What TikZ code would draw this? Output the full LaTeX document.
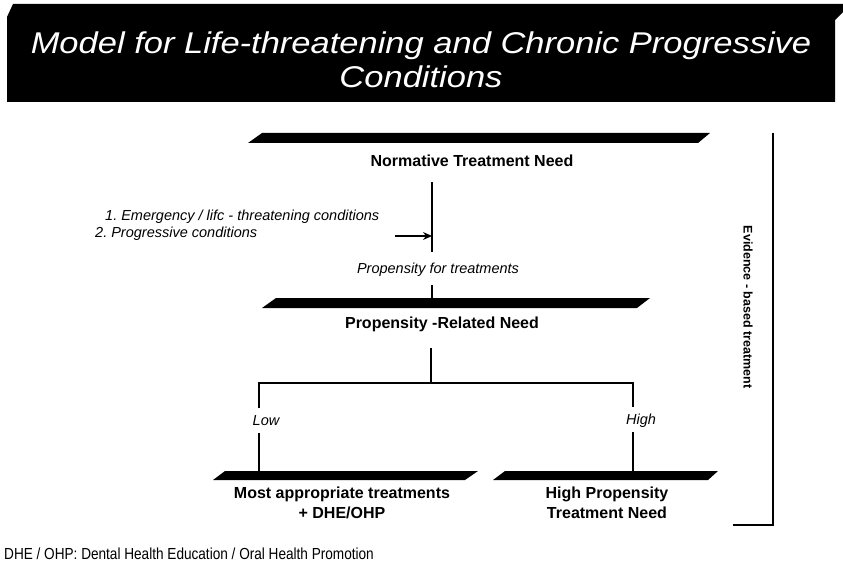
\documentclass[tikz,border=0pt]{standalone}
\usepackage{fontspec}
\setmainfont{Liberation Sans}
\usetikzlibrary{arrows.meta}
\frenchspacing
\begin{document}
\begin{tikzpicture}[x=1pt,y=-1pt,
  lbl/.style={font=\bfseries\fontsize{16}{20}\selectfont, align=center, inner sep=0},
  itl/.style={font=\itshape\fontsize{14.5}{17}\selectfont, inner sep=0},
  ttl/.style={font=\itshape\fontsize{30}{34}\selectfont, text=white, inner sep=0, anchor=base, xscale=1.15},
  conn/.style={line width=1.1pt},
  slab/.style={fill=black}]
\useasboundingbox (0,0) rectangle (843,569);
% title banner
\fill (7,17) -- (13,4) -- (843,4) -- (843,12) -- (835,20) -- (835,102) -- (7,102) -- cycle;
\node[ttl] (t1) at (421,54) {Model for Life-threatening and Chronic Progressive};
\node[ttl] (t2) at (421,88) {Conditions};
% bars
\fill[slab] (248,143) -- (262,133) -- (710,133) -- (698,143) -- cycle;
\fill[slab] (262,308) -- (276,298) -- (650,298) -- (637,308) -- cycle;
\fill[slab] (213,480) -- (225,471) -- (478,471) -- (465,480) -- cycle;
\fill[slab] (493,480) -- (505,471) -- (718,471) -- (708,480) -- cycle;
% labels
\node[lbl] (n1) at (472,161) {Normative Treatment Need};
\node[itl] (pfor) at (438,270) {Propensity for treatments};
\node[lbl] (n2) at (442,324) {Propensity -Related Need};
\node[itl] (low) at (266,421) {Low};
\node[itl] (high) at (641,421) {High};
\node[lbl] (n3) at (342,503) {Most appropriate treatments\\+ DHE/OHP};
\node[lbl] (n4) at (607,503) {High Propensity\\Treatment Need};
\node[itl, anchor=west] (c1) at (105,217) {1. Emergency / lifc - threatening conditions};
\node[itl, anchor=west] (c2) at (95,234) {2. Progressive conditions};
\node[lbl, font=\bfseries\fontsize{12.5}{14}\selectfont, rotate=-90] (ev) at (748,307) {Evidence - based treatment};
\node[inner sep=0, anchor=base west, font=\fontsize{16}{18}\selectfont] (foot) at (4,559) {\addfontfeature{FakeStretch=0.85}DHE / OHP: Dental Health Education / Oral Health Promotion};
% coordinates
\coordinate (v1a) at (432,182);
\coordinate (v1b) at (432,252);
\coordinate (arS) at (395,236);
\coordinate (arE) at (432,236);
\coordinate (v2a) at (432,285);
\coordinate (v2b) at (432,298);
\coordinate (v3a) at (431,348);
\coordinate (v3b) at (431,383);
\coordinate (hl) at (259,383);
\coordinate (hr) at (633,383);
\coordinate (ll) at (259,408);
\coordinate (lla) at (259,433);
\coordinate (llb) at (259,471);
\coordinate (rl) at (633,407);
\coordinate (rla) at (633,432);
\coordinate (rlb) at (633,471);
\coordinate (bt) at (773,133);
\coordinate (bb) at (773,525);
\coordinate (be) at (733,525);
% connectors
\draw[conn] (v1a) -- (v1b);
\draw[conn, -{Stealth[length=9pt,width=8pt]}] (arS) -- (arE);
\draw[conn] (v2a) -- (v2b);
\draw[conn] (v3a) -- (v3b);
\draw[conn] (ll) -- (hl) -- (hr) -- (rl);
\draw[conn] (lla) -- (llb);
\draw[conn] (rla) -- (rlb);
\draw[conn] (bt) -- (bb) -- (be);
\end{tikzpicture}
\end{document}
